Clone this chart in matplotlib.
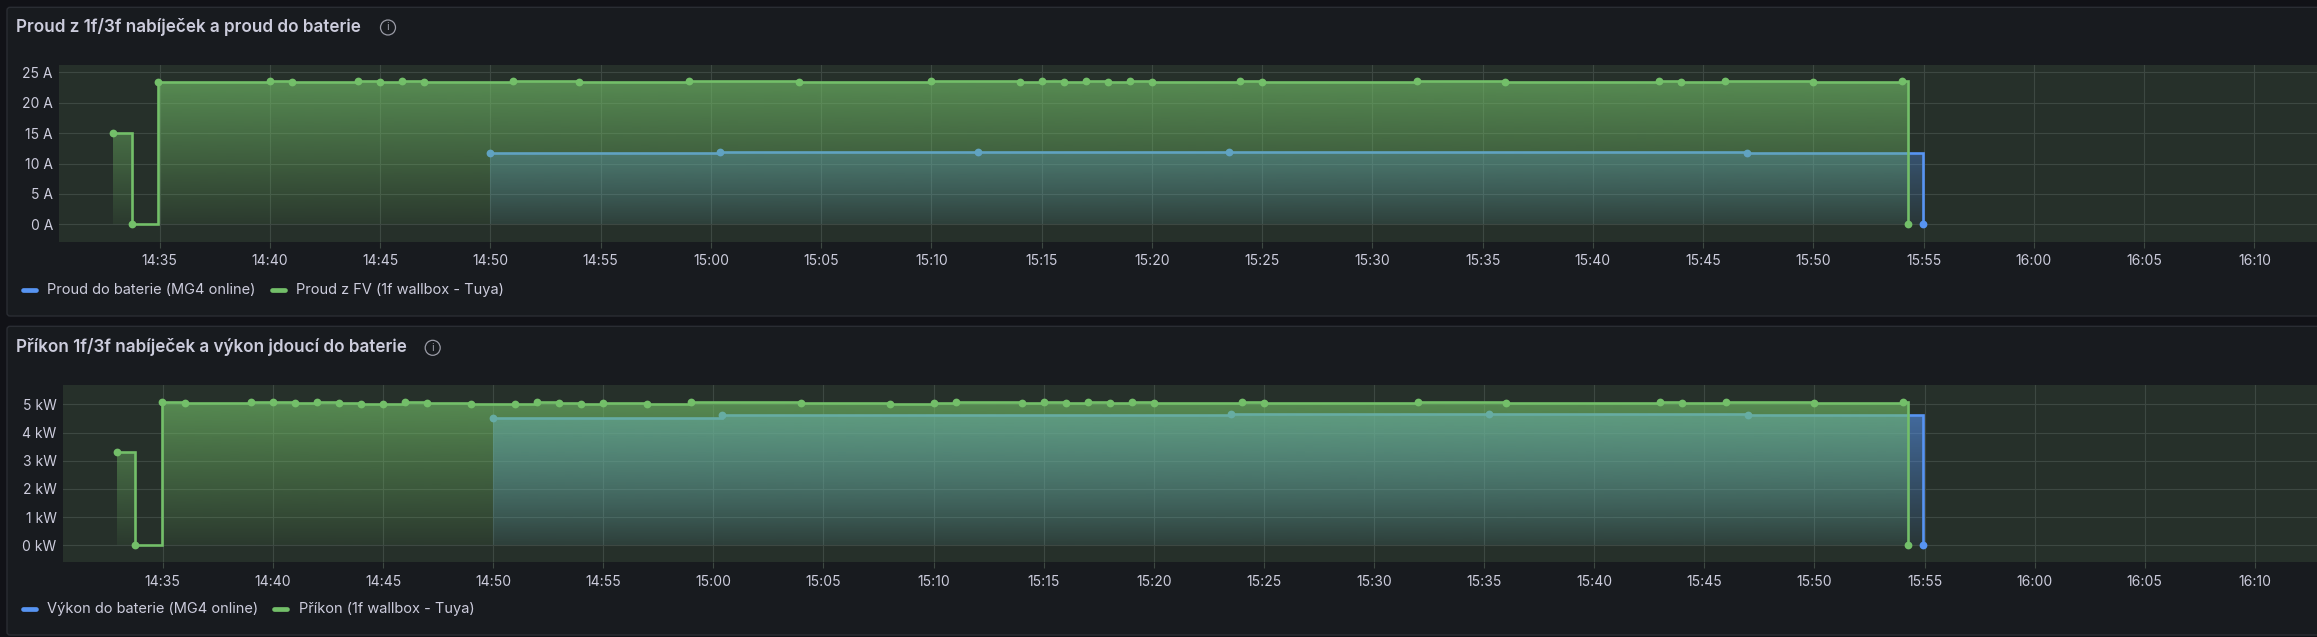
import numpy as np
import matplotlib
matplotlib.use("Agg")
import matplotlib.pyplot as plt
from matplotlib.patches import Circle, FancyBboxPatch, PathPatch
from matplotlib.path import Path

W, H = 2317, 637

# time = minutes after 14:00
tick_minutes = list(range(35, 131, 5))
tick_labels = ["14:35", "14:40", "14:45", "14:50", "14:55", "15:00", "15:05", "15:10",
               "15:15", "15:20", "15:25", "15:30", "15:35", "15:40", "15:45", "15:50",
               "15:55", "16:00", "16:05", "16:10"]

# top panel
amp_ticks = [0, 5, 10, 15, 20, 25]
amp_labels = ["0 A", "5 A", "10 A", "15 A", "20 A", "25 A"]
amp_fv_t = [32.9, 33.73, 34.9, 40, 41, 44, 45, 46, 47, 51, 54, 59, 64, 70, 74, 75, 76, 77, 78,
            79, 80, 84, 85, 92, 96, 103, 104, 106, 110, 114, 114.27]
amp_fv = [15.0, 0, 23.4, 23.55, 23.4, 23.55, 23.4, 23.55, 23.4, 23.55, 23.4, 23.55, 23.4, 23.55,
          23.4, 23.55, 23.4, 23.55, 23.4, 23.55, 23.4, 23.55, 23.4, 23.55, 23.4, 23.55, 23.4,
          23.55, 23.4, 23.55, 0]
amp_bat_t = [50, 60.4, 72.1, 83.5, 107, 114.95]
amp_bat = [11.7, 11.9, 11.9, 11.9, 11.7, 0]

# bottom panel
kw_ticks = [0, 1, 2, 3, 4, 5]
kw_labels = ["0 kW", "1 kW", "2 kW", "3 kW", "4 kW", "5 kW"]
kw_fv_t = [32.9, 33.73, 34.95, 36, 39, 40, 41, 42, 43, 44, 45, 46, 47, 49, 51, 52, 53, 54, 55, 57,
           59, 64, 68, 70, 71, 74, 75, 76, 77, 78, 79, 80, 84, 85, 92, 96, 103, 104, 106, 110,
           114, 114.27]
kw_fv = [3.32, 0, 5.09, 5.05, 5.08, 5.09, 5.05, 5.09, 5.05, 5.01, 5.01, 5.09, 5.05, 5.01, 5.01,
         5.09, 5.05, 5.01, 5.05, 5.01, 5.09, 5.05, 5.01, 5.05, 5.09, 5.05, 5.09, 5.05, 5.09, 5.05,
         5.09, 5.05, 5.09, 5.05, 5.09, 5.05, 5.09, 5.05, 5.09, 5.05, 5.09, 0]
kw_bat_t = [50, 60.4, 83.5, 95.2, 107, 114.95]
kw_bat = [4.52, 4.63, 4.66, 4.66, 4.62, 0]

GREEN = "#73BF69"
BLUE = "#5794F2"
TEXT = "#ccccdc"
GRID = "#3d4842"

plt.rcParams["font.family"] = ["Inter", "DejaVu Sans"]


def gradient_fill(ax, t, v, color, ylim):
    # step polygon under the series, filled with vertical alpha gradient
    xs, ys = [t[0]], [0]
    for i in range(len(t) - 1):
        xs += [t[i], t[i + 1]]
        ys += [v[i], v[i]]
    xs.append(t[-1])
    ys.append(0)
    rgb = matplotlib.colors.to_rgb(color)
    grad = np.zeros((256, 1, 4))
    grad[:, 0, :3] = rgb
    grad[:, 0, 3] = np.linspace(0.7, 0, 256)
    x0, x1 = ax.get_xlim()
    im = ax.imshow(grad, extent=[x0, x1, ylim[0], ylim[1]], aspect="auto", origin="upper",
                   zorder=2, interpolation="bilinear")
    clip = PathPatch(Path(np.column_stack([xs, ys])), transform=ax.transData, fc="none", ec="none")
    ax.add_patch(clip)
    im.set_clip_path(clip)


def series(ax, t, v, color, ylim, z):
    gradient_fill(ax, t, v, color, ylim)
    ax.images[-1].set_zorder(z)
    ax.plot(t, v, drawstyle="steps-post", color=color, lw=1.9, zorder=z + 0.1, solid_joinstyle="miter")
    ax.plot(t, v, ls="none", marker="o", ms=5.6, color=color, mew=0, zorder=z + 0.2)


def chart(box, xlim, ylim, yticks, ylabels, bat_t, bat, fv_t, fv):
    left, top, right, bottom = box
    ax = fig.add_axes([left / W, 1 - bottom / H, (right - left) / W, (bottom - top) / H])
    ax.set_facecolor("#26302a")
    ax.set_xlim(*xlim)
    ax.set_ylim(*ylim)
    series(ax, bat_t, bat, BLUE, ylim, 3)
    series(ax, fv_t, fv, GREEN, ylim, 4)
    ax.set_xlim(*xlim)
    ax.set_ylim(*ylim)
    ax.set_xticks(tick_minutes)
    ax.set_xticklabels(tick_labels)
    ax.set_yticks(yticks)
    ax.set_yticklabels(ylabels)
    ax.grid(True, color=GRID, lw=0.8, zorder=1)
    ax.set_axisbelow(True)
    ax.tick_params(axis="x", colors=TEXT, labelsize=10, length=4.2, width=0.8, color=GRID, pad=5)
    ax.tick_params(axis="y", colors=TEXT, labelsize=10, length=0, pad=4.5)
    for s in ax.spines.values():
        s.set_visible(False)
    return ax


def panel(bg, top, bottom, title, title_y, icon_x, legend):
    bg.add_patch(FancyBboxPatch((7, top), W + 30, bottom - top, boxstyle="round,pad=0,rounding_size=3",
                                fc="#181b1f", ec="#2a2d33", lw=1))
    bg.text(16.3, title_y, title, color=TEXT, fontsize=12.3, va="center", ha="left", fontweight=600)
    bg.add_patch(Circle((icon_x, title_y + 0.5), 7.5, fc="none", ec="#9a9ba6", lw=0.9))
    bg.text(icon_x, title_y + 0.5, "i", color="#9a9ba6", fontsize=8, ha="center", va="center")
    for x0, x1, tx, label, color in legend:
        bg.plot([x0 + 2, x1 - 2], [legend_y(top)] * 2, color=color, lw=3.4, solid_capstyle="round")
        bg.text(tx, legend_y(top), label, color=TEXT, fontsize=10.5, va="center", ha="left")


def legend_y(top):
    return top + 282.7


fig = plt.figure(figsize=(W / 100, H / 100), dpi=100, facecolor="#111217")
bg = fig.add_axes([0, 0, 1, 1])
bg.set_xlim(0, W)
bg.set_ylim(H, 0)
bg.axis("off")

panel(bg, 7.3, 316, "Proud z 1f/3f nabíječek a proud do baterie", 27, 388,
      [(21.4, 38, 47.4, "Proud do baterie (MG4 online)", BLUE),
       (270, 287, 296.5, "Proud z FV (1f wallbox - Tuya)", GREEN)])
panel(bg, 326.3, 635, "Příkon 1f/3f nabíječek a výkon jdoucí do baterie", 347.3, 432.7,
      [(21.4, 38, 47.4, "Výkon do baterie (MG4 online)", BLUE),
       (272.4, 289, 299, "Příkon (1f wallbox - Tuya)", GREEN)])

chart((59.2, 65.3, W, 241.7), (30.44, 132.84), (-2.86, 26.15), amp_ticks, amp_labels,
      amp_bat_t, amp_bat, amp_fv_t, amp_fv)
chart((62.8, 384.7, W, 562), (30.46, 132.82), (-0.59, 5.695), kw_ticks, kw_labels,
      kw_bat_t, kw_bat, kw_fv_t, kw_fv)

fig.savefig("out.png", dpi=100, facecolor=fig.get_facecolor())
